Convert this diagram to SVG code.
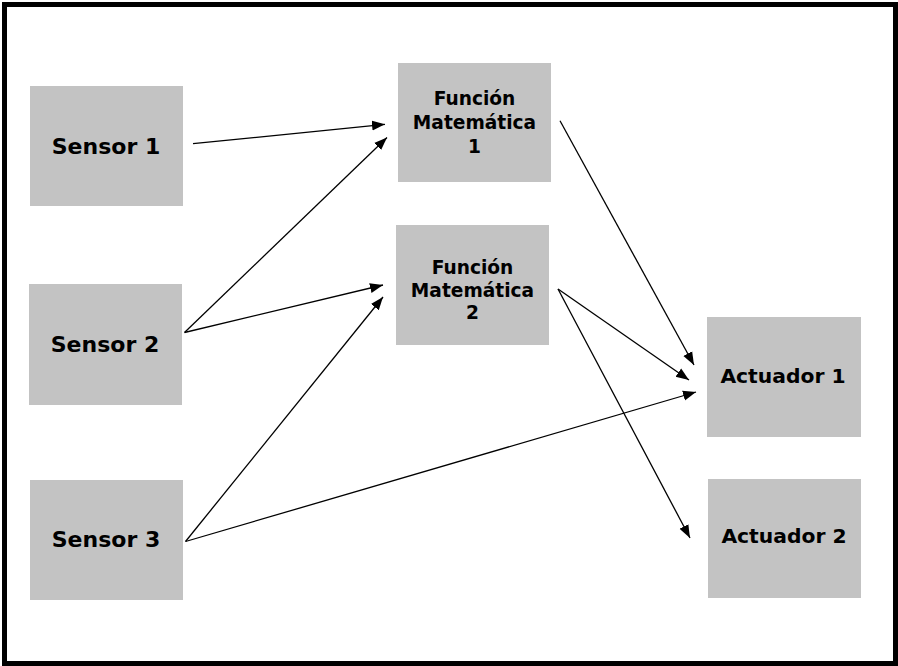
<svg xmlns="http://www.w3.org/2000/svg" width="898" height="666" viewBox="0 0 898 666">
<style>
.box{fill:#c3c3c3}
.lbl{font-family:"DejaVu Sans",sans-serif;font-weight:bold;fill:#000;text-anchor:middle}
.s{font-size:22px}
.a{font-size:20.3px}
.f{font-size:18.6px}
.conn line{stroke:#000;stroke-width:1.3;fill:none;marker-end:url(#ah)}
</style>
<defs>
<marker id="ah" markerUnits="userSpaceOnUse" markerWidth="14" markerHeight="12" viewBox="0 0 14 12" refX="13" refY="6" orient="auto">
<path d="M0,1 L13,6 L0,11 Z" fill="#000"/>
</marker>
</defs>
<rect x="0" y="0" width="898" height="666" fill="#fff"/>
<rect id="frame" x="4.5" y="4.5" width="891" height="659" fill="none" stroke="#000" stroke-width="5"/>
<g id="sensor1"><rect class="box" x="30" y="86" width="153" height="120"/><text class="lbl s" x="106" y="154">Sensor 1</text></g>
<g id="sensor2"><rect class="box" x="29" y="284" width="153" height="121"/><text class="lbl s" x="105" y="352">Sensor 2</text></g>
<g id="sensor3"><rect class="box" x="30" y="480" width="153" height="120"/><text class="lbl s" x="106" y="547">Sensor 3</text></g>
<g id="funcion1"><rect class="box" x="398" y="63" width="153" height="119"/><text class="lbl f" x="474.5" y="105">Función</text><text class="lbl f" x="474.5" y="129">Matemática</text><text class="lbl f" x="474.5" y="153">1</text></g>
<g id="funcion2"><rect class="box" x="396" y="225" width="153" height="120"/><text class="lbl f" x="472.5" y="274">Función</text><text class="lbl f" x="472.5" y="297">Matemática</text><text class="lbl f" x="472.5" y="319">2</text></g>
<g id="actuador1"><rect class="box" x="707" y="317" width="154" height="120"/><text class="lbl a" x="783" y="383">Actuador 1</text></g>
<g id="actuador2"><rect class="box" x="708" y="479" width="153" height="119"/><text class="lbl a" x="784" y="543">Actuador 2</text></g>
<g id="connectors" class="conn">
<line x1="193" y1="143.7" x2="385" y2="124.3"/>
<line x1="184.5" y1="332.5" x2="387" y2="137.5"/>
<line x1="184.5" y1="332.5" x2="383" y2="285"/>
<line x1="185.5" y1="541.5" x2="383" y2="297"/>
<line x1="185.5" y1="541.5" x2="696" y2="392"/>
<line x1="560" y1="120.7" x2="694" y2="365"/>
<line x1="558" y1="289" x2="689" y2="380"/>
<line x1="558" y1="289" x2="690" y2="538"/>
</g>
</svg>
